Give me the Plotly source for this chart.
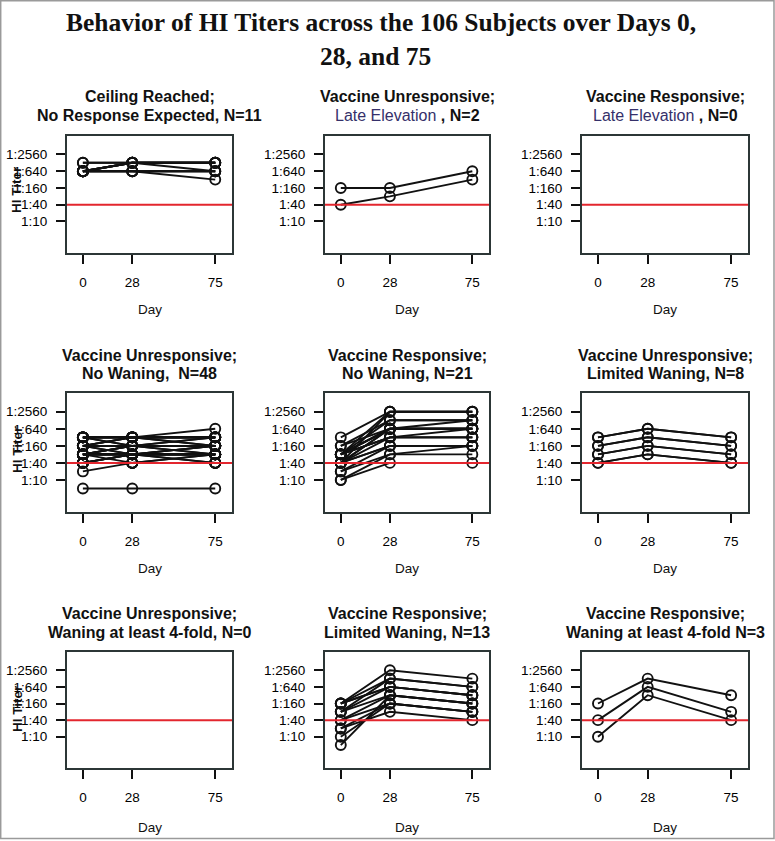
import math
import plotly.graph_objects as go

# ---------------- data ----------------
DAYS = [0, 28, 75]
DAY_LABELS = ["0", "28", "75"]
TITER_TICKS = [10, 40, 160, 640, 2560]
TITER_LABELS = ["1:10", "1:40", "1:160", "1:640", "1:2560"]
THRESHOLD = 40

MAIN_TITLE_1 = "Behavior of HI Titers across the 106 Subjects over Days 0,"
MAIN_TITLE_2 = "28, and 75"
Y_LABEL = "HI Titer"
X_LABEL = "Day"

TITLE_TOP = [
    "Ceiling Reached;", "Vaccine Unresponsive;", "Vaccine Responsive;",
    "Vaccine Unresponsive;", "Vaccine Responsive;", "Vaccine Unresponsive;",
    "Vaccine Unresponsive;", "Vaccine Responsive;", "Vaccine Responsive;",
]
TITLE_BOTTOM = [
    "<b>No Response Expected, N=11</b>",
    "<span style='color:#35306a'>Late Elevation</span><b> , N=2</b>",
    "<span style='color:#35306a'>Late Elevation</span><b> , N=0</b>",
    "<b>No Waning,  N=48</b>",
    "<b>No Waning, N=21</b>",
    "<b>Limited Waning, N=8</b>",
    "<b>Waning at least 4-fold, N=0</b>",
    "<b>Limited Waning, N=13</b>",
    "<b>Waning at least 4-fold N=3</b>",
]

# Panel 1: Ceiling reached, no response expected (N=11)
P1_D0 = [1280, 640, 640, 640, 640, 640, 640, 640, 640, 1280, 640]
P1_D28 = [1280, 1280, 1280, 640, 640, 1280, 640, 1280, 640, 1280, 1280]
P1_D75 = [1280, 1280, 1280, 640, 640, 1280, 320, 640, 640, 1280, 1280]

# Panel 2: Vaccine unresponsive, late elevation (N=2)
P2_D0 = [160, 40]
P2_D28 = [160, 80]
P2_D75 = [640, 320]

# Panel 3: Vaccine responsive, late elevation (N=0)
P3_D0, P3_D28, P3_D75 = [], [], []

# Panel 4: Vaccine unresponsive, no waning (N=48)
P4_D0 = [5, 20, 320, 320, 320, 320, 320, 160, 160, 160, 160, 160, 160, 160, 160, 80,
         80, 80, 80, 80, 80, 80, 80, 80, 40, 40, 40, 40, 40, 40, 320, 320,
         160, 80, 40, 160, 320, 80, 40, 160, 80, 320, 160, 40, 80, 160, 320, 80]
P4_D28 = [5, 40, 320, 320, 320, 320, 160, 320, 160, 160, 160, 160, 80, 160, 320, 80,
          80, 80, 160, 80, 160, 40, 80, 160, 40, 40, 80, 80, 40, 80, 320, 160,
          160, 80, 40, 320, 320, 80, 80, 160, 160, 320, 80, 40, 80, 160, 320, 80]
P4_D75 = [5, 40, 640, 320, 320, 320, 320, 320, 160, 160, 160, 320, 160, 80, 160, 80,
          80, 160, 160, 40, 80, 80, 80, 160, 40, 40, 80, 40, 80, 80, 160, 160,
          160, 80, 40, 320, 320, 160, 80, 160, 160, 320, 80, 40, 80, 160, 320, 80]

# Panel 5: Vaccine responsive, no waning (N=21)
P5_D0 = [40, 80, 80, 160, 40, 80, 80, 320, 80, 40, 80, 40, 20, 80, 10, 10, 20, 40, 160, 40, 80]
P5_D28 = [2560, 2560, 1280, 1280, 640, 640, 640, 2560, 320, 320, 320, 160, 160, 640, 40, 80, 80, 160, 640, 640, 320]
P5_D75 = [2560, 2560, 1280, 1280, 640, 640, 640, 2560, 320, 640, 320, 160, 160, 1280, 40, 80, 160, 160, 640, 640, 320]

# Panel 6: Vaccine unresponsive, limited waning (N=8)
P6_D0 = [320, 320, 160, 160, 80, 80, 40, 40]
P6_D28 = [640, 640, 320, 320, 160, 160, 80, 80]
P6_D75 = [320, 320, 160, 160, 80, 80, 40, 40]

# Panel 7: Vaccine unresponsive, waning at least 4-fold (N=0)
P7_D0, P7_D28, P7_D75 = [], [], []

# Panel 8: Vaccine responsive, limited waning (N=13)
P8_D0 = [160, 160, 80, 160, 80, 80, 40, 5, 10, 20, 40, 20, 160]
P8_D28 = [2560, 1280, 1280, 640, 640, 320, 320, 320, 160, 160, 160, 80, 640]
P8_D75 = [1280, 640, 640, 320, 320, 160, 160, 160, 80, 80, 80, 40, 320]

# Panel 9: Vaccine responsive, waning at least 4-fold (N=3)
P9_D0 = [160, 40, 10]
P9_D28 = [1280, 640, 320]
P9_D75 = [320, 80, 40]

PANELS = [
    (P1_D0, P1_D28, P1_D75), (P2_D0, P2_D28, P2_D75), (P3_D0, P3_D28, P3_D75),
    (P4_D0, P4_D28, P4_D75), (P5_D0, P5_D28, P5_D75), (P6_D0, P6_D28, P6_D75),
    (P7_D0, P7_D28, P7_D75), (P8_D0, P8_D28, P8_D75), (P9_D0, P9_D28, P9_D75),
]

# ---------------- layout geometry (pixels) ----------------
W, H = 775, 841
COL_X = [(67, 232), (325, 489), (582, 748)]
ROW_Y = [(136, 253), (393, 512), (652, 768)]
TITLE1_Y = [96, 355, 613]
TITLE2_Y = [115, 373, 632]
DAY_Y = [310, 568, 827]
YLAB_Y = [190, 450, 709]
X_RANGE = [-9, 84.5]
S_LO, S_HI = -1.88, 5.1  # in 4-fold steps relative to 1:10


def px(x):
    return x / W


def py(y):
    return 1 - y / H


Y_RANGE = [math.log10(10) + S_LO * math.log10(4), math.log10(10) + S_HI * math.log10(4)]

FONT = "Liberation Sans, Arial, sans-serif"
fig = go.Figure()
annotations = []
shapes = []

for i, (d0, d28, d75) in enumerate(PANELS):
    r, c = divmod(i, 3)
    n = i + 1
    xa = "x" if n == 1 else f"x{n}"
    ya = "y" if n == 1 else f"y{n}"
    for a, b, e in zip(d0, d28, d75):
        fig.add_trace(go.Scatter(
            x=DAYS, y=[a, b, e], mode="lines+markers", xaxis=xa, yaxis=ya,
            line=dict(color="#111111", width=1.9),
            marker=dict(symbol="circle-open", size=10, color="#111111", line=dict(width=1.9)),
            showlegend=False, hoverinfo="skip",
        ))
    (x0, x1), (y0, y1) = COL_X[c], ROW_Y[r]
    common_axis = dict(showline=True, mirror=True, linecolor="#2c3636", linewidth=2,
                       ticks="outside", ticklen=9, tickwidth=1.6, tickcolor="#111111",
                       showgrid=False, zeroline=False, fixedrange=True,
                       tickfont=dict(family=FONT, size=13.5, color="#000000"))
    fig.layout[f"xaxis{'' if n == 1 else n}"] = dict(
        domain=[px(x0), px(x1)], anchor=ya, range=X_RANGE,
        tickvals=DAYS, ticktext=DAY_LABELS, ticklabelstandoff=7, **common_axis)
    fig.layout[f"yaxis{'' if n == 1 else n}"] = dict(
        domain=[py(y1), py(y0)], anchor=xa, type="log", range=Y_RANGE,
        tickvals=TITER_TICKS, ticktext=TITER_LABELS, ticklabelstandoff=6, **common_axis)
    shapes.append(dict(type="line", xref=f"{xa} domain", yref=ya, x0=0, x1=1,
                       y0=THRESHOLD, y1=THRESHOLD, line=dict(color="#e3262e", width=2)))
    cx = (x0 + x1) / 2
    annotations.append(dict(text=f"<b>{TITLE_TOP[i]}</b>", x=px(cx), y=py(TITLE1_Y[r]),
                            xref="paper", yref="paper", showarrow=False,
                            xanchor="center", yanchor="middle",
                            font=dict(family=FONT, size=16, color="#111111")))
    annotations.append(dict(text=TITLE_BOTTOM[i], x=px(cx), y=py(TITLE2_Y[r]),
                            xref="paper", yref="paper", showarrow=False,
                            xanchor="center", yanchor="middle",
                            font=dict(family=FONT, size=16, color="#111111")))
    annotations.append(dict(text=X_LABEL, x=px(cx), y=py(DAY_Y[r]),
                            xref="paper", yref="paper", showarrow=False,
                            xanchor="center", yanchor="middle",
                            font=dict(family=FONT, size=13.5, color="#111111")))
    if c == 0:
        annotations.append(dict(text=f"<b>{Y_LABEL}</b>", x=px(17), y=py(YLAB_Y[r]),
                                xref="paper", yref="paper", showarrow=False, textangle=-90,
                                xanchor="center", yanchor="middle",
                                font=dict(family=FONT, size=13.5, color="#111111")))

annotations.append(dict(text=f"<b>{MAIN_TITLE_1}</b>", x=px(381), y=py(22), xref="paper",
                        yref="paper", showarrow=False, xanchor="center", yanchor="middle",
                        font=dict(family="Liberation Serif, Times New Roman, serif", size=25.5,
                                  color="#111111")))
annotations.append(dict(text=f"<b>{MAIN_TITLE_2}</b>", x=px(375), y=py(57), xref="paper",
                        yref="paper", showarrow=False, xanchor="center", yanchor="middle",
                        font=dict(family="Liberation Serif, Times New Roman, serif", size=25.5,
                                  color="#111111")))

shapes.append(dict(type="rect", xref="paper", yref="paper", x0=px(0.7), x1=px(774),
                   y0=py(838.5), y1=py(0.7), line=dict(color="#9a9a9a", width=1.5)))

fig.update_layout(width=W, height=H, margin=dict(l=0, r=0, t=0, b=0),
                  paper_bgcolor="white", plot_bgcolor="white",
                  annotations=annotations, shapes=shapes, showlegend=False)

fig.write_html("out.html", config={"displayModeBar": False},
               post_script="document.body.style.margin='0';")
